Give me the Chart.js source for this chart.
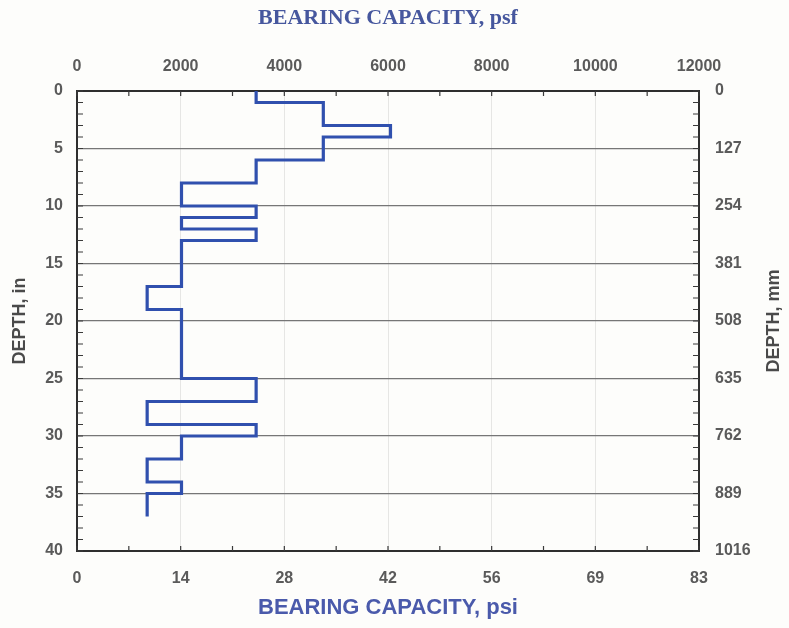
<!DOCTYPE html>
<html><head><meta charset="utf-8">
<script src="https://cdn.jsdelivr.net/npm/chart.js@4"></script>
<style>html,body{margin:0;padding:0;background:#fdfdfb}#wrap{width:789px;height:628px}</style>
</head><body><div id="wrap"><canvas id="c" width="789" height="628"></canvas></div>
<script>
// Layer boundaries (depth, in) and bearing capacity of each layer (psi)
const layerDepthsIn = [0,1,3,4,6,8,10,11,12,13,17,19,25,27,29,30,32,34,35,37];
const layerCapacityPsi = [24,33,42,33,24,14,24,14,24,14,9.4,14,24,9.4,24,14,9.4,14,9.4];
// Axis ticks
const psfTickValues = [0,2000,4000,6000,8000,10000,12000];
const psfTickLabels = ['0','2000','4000','6000','8000','10000','12000'];
const psiTickLabels = ['0','14','28','42','56','69','83'];
const depthInTickValues = [0,5,10,15,20,25,30,35,40];
const depthInTickLabels = ['0','5','10','15','20','25','30','35','40'];
const depthMmTickLabels = ['0','127','254','381','508','635','762','889','1016'];
const PSF_PER_PSI = 144;
const rightTitle = 'DEPTH, mm';

const points = [];
for (let i = 0; i < layerCapacityPsi.length; i++) {
  points.push({x: layerCapacityPsi[i], y: layerDepthsIn[i]});
  points.push({x: layerCapacityPsi[i], y: layerDepthsIn[i+1]});
}

const tickFont = {family: '"Liberation Sans", Arial, sans-serif', size: 16, weight: 'bold'};
const tickColor = '#5a5a5a';
const borderCfg = {display: true, color: '#2e2e2e', width: 2};
const labelFor = (values, labels) => v => { const i = values.indexOf(v); return i < 0 ? '' : labels[i]; };

const innerTicks = {
  id: 'innerTicks',
  afterDraw(chart) {
    const {ctx, chartArea: a, scales} = chart;
    ctx.save();
    ctx.strokeStyle = '#3a3a3a';
    ctx.lineWidth = 1.2;
    ctx.beginPath();
    for (let d = 0; d <= 40; d++) {
      const y = scales.y.getPixelForValue(d);
      ctx.moveTo(a.left, y); ctx.lineTo(a.left + 6, y);
      ctx.moveTo(a.right, y); ctx.lineTo(a.right - 6, y);
    }
    for (let v = 0; v <= 12000; v += 1000) {
      const x = scales.x2.getPixelForValue(v);
      ctx.moveTo(x, a.top); ctx.lineTo(x, a.top + 5);
      ctx.moveTo(x, a.bottom); ctx.lineTo(x, a.bottom - 5);
    }
    ctx.stroke();
    // right axis title, reading bottom-to-top like the left one
    const s = scales.y2;
    ctx.translate(s.right - 15, (a.top + a.bottom) / 2);
    ctx.rotate(-Math.PI / 2);
    ctx.fillStyle = '#4a4a4a';
    ctx.font = 'bold 18px "Liberation Sans", Arial, sans-serif';
    ctx.textAlign = 'center';
    ctx.textBaseline = 'middle';
    ctx.fillText(rightTitle, 0, 0);
    ctx.restore();
  }
};

new Chart(document.getElementById('c'), {
  type: 'scatter',
  data: {
    datasets: [{
      data: points,
      showLine: true,
      borderColor: '#3050ae',
      borderWidth: 3.2,
      pointRadius: 0,
      fill: false,
      xAxisID: 'x',
      yAxisID: 'y'
    }]
  },
  options: {
    responsive: false,
    animation: false,
    layout: {padding: 0},
    plugins: {legend: {display: false}, tooltip: {enabled: false}},
    scales: {
      x: {
        type: 'linear', position: 'bottom',
        min: 0, max: 12000 / PSF_PER_PSI,
        afterBuildTicks: s => { s.ticks = psfTickValues.map(v => ({value: v / PSF_PER_PSI})); },
        afterFit: s => { s.height = 77; },
        ticks: {font: tickFont, color: tickColor, padding: 18, maxRotation: 0, autoSkip: false,
          callback: (v, i) => psiTickLabels[i]},
        grid: {display: false, drawTicks: false},
        border: borderCfg,
        title: {display: true, text: 'BEARING CAPACITY, psi', color: '#4a5aab',
          font: {family: '"Liberation Sans", Arial, sans-serif', size: 22, weight: 'bold'},
          padding: {top: 0, bottom: 7}}
      },
      x2: {
        type: 'linear', position: 'top',
        min: 0, max: 12000,
        afterBuildTicks: s => { s.ticks = psfTickValues.map(v => ({value: v})); },
        afterFit: s => { s.height = 91; },
        ticks: {font: tickFont, color: tickColor, padding: 15, maxRotation: 0, autoSkip: false,
          callback: labelFor(psfTickValues, psfTickLabels)},
        grid: {display: true, drawTicks: false, color: '#e6e6e4', lineWidth: 1},
        border: borderCfg,
        title: {display: true, text: 'BEARING CAPACITY, psf', color: '#46579e',
          font: {family: '"Liberation Serif", "Times New Roman", serif', size: 22, weight: 'bold'},
          padding: {top: 5, bottom: 0}}
      },
      y: {
        type: 'linear', position: 'left', reverse: true,
        min: 0, max: 40,
        ticks: {stepSize: 5, font: tickFont, color: tickColor, padding: 14, autoSkip: false,
          callback: labelFor(depthInTickValues, depthInTickLabels)},
        afterFit: s => { s.width = 77; },
        grid: {display: true, drawTicks: false, color: '#767676', lineWidth: 1.3},
        border: borderCfg,
        title: {display: true, text: 'DEPTH, in', color: '#4a4a4a',
          font: {family: '"Liberation Sans", Arial, sans-serif', size: 18, weight: 'bold'},
          padding: {top: 9, bottom: 0}}
      },
      y2: {
        type: 'linear', position: 'right', reverse: true,
        min: 0, max: 40,
        ticks: {stepSize: 5, font: tickFont, color: tickColor, padding: 16, autoSkip: false,
          callback: labelFor(depthInTickValues, depthMmTickLabels)},
        afterFit: s => { s.width = 90; },
        grid: {display: false, drawTicks: false},
        border: borderCfg,
        title: {display: false}
      }
    }
  },
  plugins: [innerTicks]
});
</script>
</body></html>
